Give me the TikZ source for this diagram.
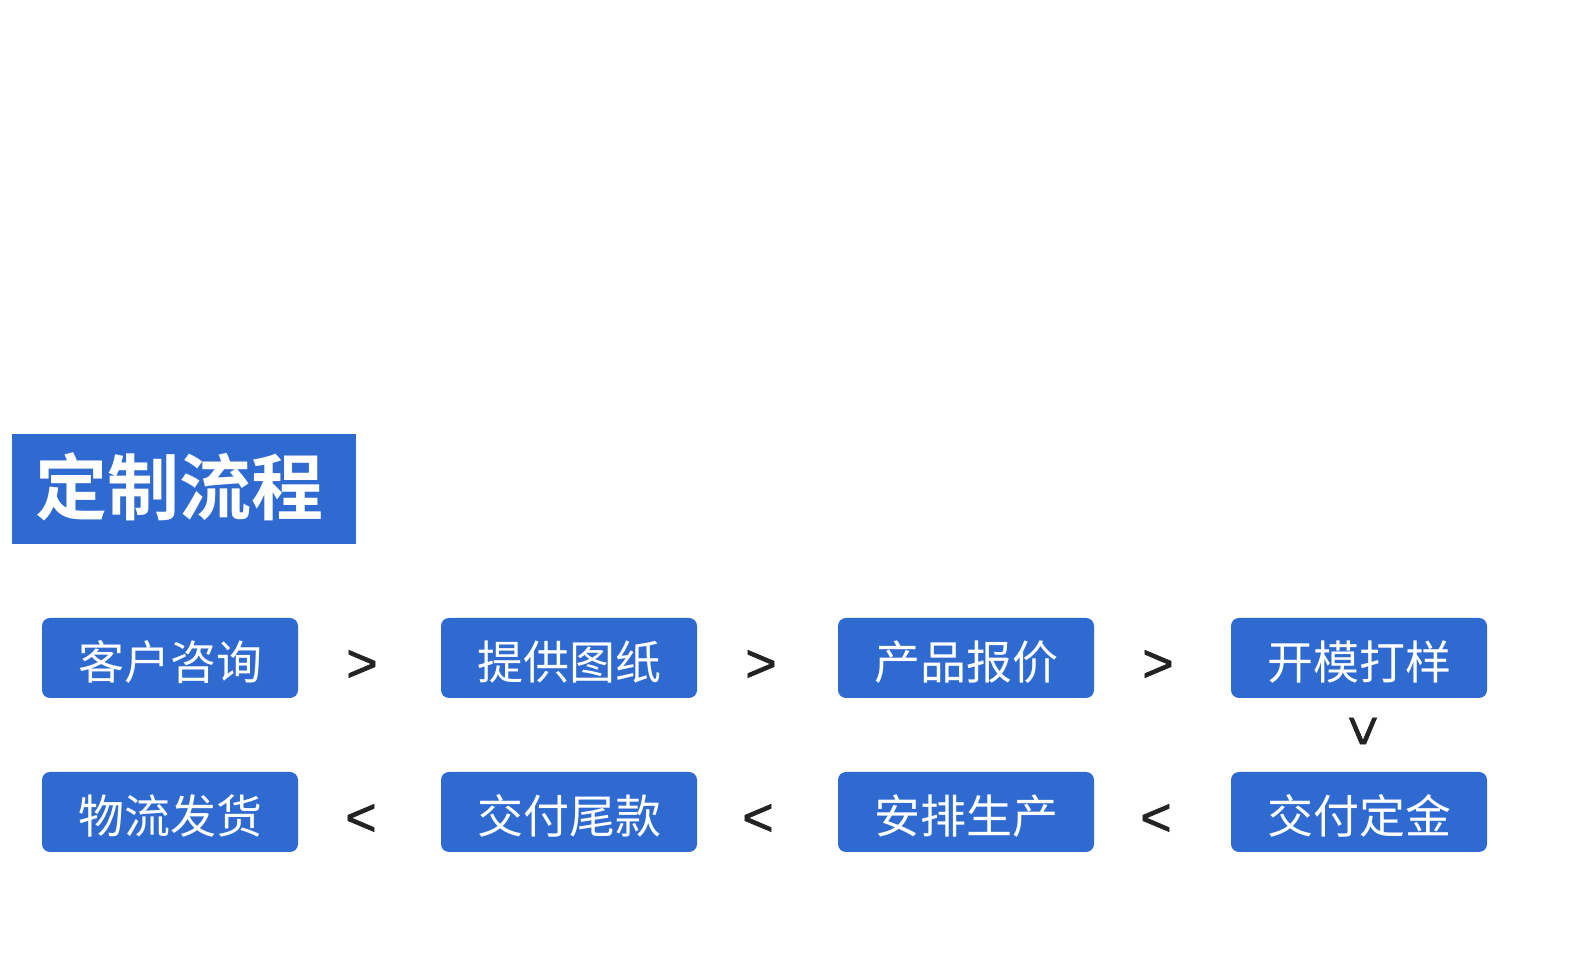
\documentclass[tikz,border=0pt]{standalone}
\usepackage{fontspec}
\newfontfamily\cjk{Noto Sans CJK SC}
\newfontfamily\cjkb{Noto Sans CJK SC Bold}
\newfontfamily\symf[FakeBold=1.2]{Liberation Sans}
\definecolor{bblue}{RGB}{46,106,208}
\definecolor{agray}{RGB}{35,35,35}
\begin{document}
\begin{tikzpicture}[x=1pt,y=1pt,
  stepbox/.style={fill=bblue,rounded corners=8pt,minimum width=256pt,minimum height=80pt,inner sep=0pt,text height=44pt,text depth=0pt,text=white,font=\cjk\fontsize{46}{46}\selectfont},
  arr/.style={text=agray,font=\symf\fontsize{54}{54}\selectfont,inner sep=0pt}]
\useasboundingbox (0,0) rectangle (1580,966);
\fill[white] (0,0) rectangle (1580,966);
\node[fill=bblue,minimum width=344pt,minimum height=110pt,inner sep=0pt,text height=51pt,text depth=0pt,text=white,font=\cjkb\fontsize{72}{72}\selectfont,anchor=north west] (title) at (12,532) {定制流程\kern10pt};
\node[stepbox] (a1) at (170,308) {客户咨询};
\node[stepbox] (a2) at (569,308) {提供图纸};
\node[stepbox] (a3) at (966,308) {产品报价};
\node[stepbox] (a4) at (1359,308) {开模打样};
\node[stepbox] (b4) at (1359,154) {交付定金};
\node[stepbox] (b3) at (966,154) {安排生产};
\node[stepbox] (b2) at (569,154) {交付尾款};
\node[stepbox] (b1) at (170,154) {物流发货};
\node[arr] (g1) at (362,300) {>};
\node[arr] (g2) at (761,300) {>};
\node[arr] (g3) at (1158,300) {>};
\node[arr] (v1) at (1365,235) {\rotatebox{90}{<}};
\node[arr] (l1) at (361,146) {<};
\node[arr] (l2) at (758,146) {<};
\node[arr] (l3) at (1156,146) {<};
\end{tikzpicture}
\end{document}
